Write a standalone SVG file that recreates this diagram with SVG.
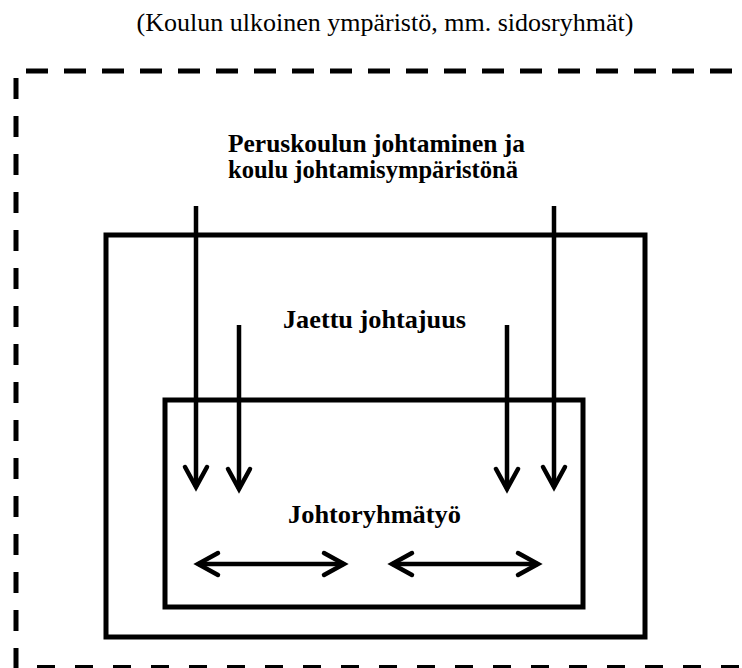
<svg xmlns="http://www.w3.org/2000/svg" width="742" height="668" viewBox="0 0 742 668">
  <style>
    .frame { fill: none; stroke: #000; stroke-width: 5; }
    .dash { fill: none; stroke: #000; stroke-width: 5; }
    .conn { fill: none; stroke: #000; stroke-width: 4.5; }
    .lbl { font-family: "Liberation Serif", "Times New Roman", serif; fill: #000; }
    .bold { font-weight: bold; font-size: 26px; }
    .title { font-size: 26px; }
  </style>
  <defs>
    <marker id="ah" markerUnits="userSpaceOnUse" viewBox="-26 -16 32 32" refX="0" refY="0" markerWidth="32" markerHeight="32" orient="auto-start-reverse" overflow="visible">
      <path d="M-20,-11 L0,0 L-20,11" fill="none" stroke="#000" stroke-width="4.5" stroke-linecap="round" stroke-linejoin="miter"/>
    </marker>
  </defs>

  <g id="environment">
    <text class="lbl title" x="385" y="31" text-anchor="middle">(Koulun ulkoinen ympäristö, mm. sidosryhmät)</text>
    <line class="dash" x1="26" y1="71" x2="742" y2="71" stroke-dasharray="22 16"/>
    <line class="dash" x1="16" y1="78" x2="16" y2="668" stroke-dasharray="21 17"/>
    <line class="dash" x1="37" y1="667.5" x2="742" y2="667.5" stroke-dasharray="18 20"/>
  </g>

  <g id="school">
    <text class="lbl bold" x="228" y="152" textLength="297" lengthAdjust="spacingAndGlyphs">Peruskoulun johtaminen ja</text>
    <text class="lbl bold" x="228" y="177.5" textLength="290" lengthAdjust="spacingAndGlyphs">koulu johtamisympäristönä</text>
  </g>

  <g id="shared-leadership">
    <rect class="frame" x="106" y="235" width="539" height="402"/>
    <text class="lbl bold" x="374.5" y="328" text-anchor="middle" textLength="183" lengthAdjust="spacingAndGlyphs">Jaettu johtajuus</text>
  </g>

  <g id="management-team">
    <rect class="frame" x="165" y="400" width="418" height="207"/>
    <text class="lbl bold" x="374.5" y="523" text-anchor="middle" textLength="173" lengthAdjust="spacingAndGlyphs">Johtoryhmätyö</text>
  </g>

  <g id="connectors">
    <line class="conn" x1="196" y1="206" x2="196" y2="487" marker-end="url(#ah)"/>
    <line class="conn" x1="554" y1="206" x2="554" y2="487" marker-end="url(#ah)"/>
    <line class="conn" x1="239" y1="325" x2="239" y2="489" marker-end="url(#ah)"/>
    <line class="conn" x1="507" y1="325" x2="507" y2="489" marker-end="url(#ah)"/>
    <line class="conn" x1="198" y1="564" x2="344" y2="564" marker-start="url(#ah)" marker-end="url(#ah)"/>
    <line class="conn" x1="392" y1="564" x2="538" y2="564" marker-start="url(#ah)" marker-end="url(#ah)"/>
  </g>
</svg>
